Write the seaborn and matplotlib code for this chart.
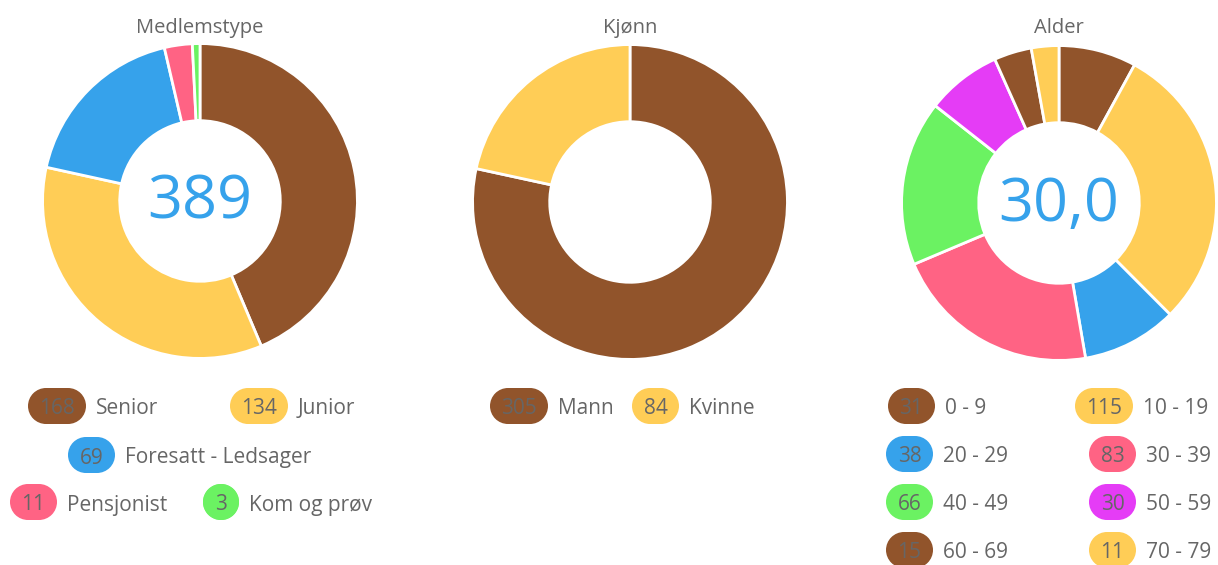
import matplotlib.pyplot as plt
import seaborn as sns
from matplotlib.patches import Circle, Rectangle

# data
medlem_labels = ['Senior', 'Junior', 'Foresatt - Ledsager', 'Pensjonist', 'Kom og prøv']
medlem_values = [168, 134, 69, 11, 3]
kjonn_labels = ['Mann', 'Kvinne']
kjonn_values = [305, 84]
alder_labels = ['0 - 9', '10 - 19', '20 - 29', '30 - 39', '40 - 49', '50 - 59', '60 - 69', '70 - 79']
alder_values = [31, 115, 38, 83, 66, 30, 15, 11]
medlem_total = '389'
alder_snitt = '30,0'

sns.set_theme(style='white')
plt.rcParams['font.family'] = ['Open Sans', 'DejaVu Sans']

farger = sns.color_palette(['#91542B', '#FFCD56', '#36A2EB', '#FF6384', '#6BF262', '#E53CF6',
                            '#91542B', '#FFCD56'])
GRA = '#666666'
W, H = 1218, 565

fig = plt.figure(figsize=(W / 100, H / 100), dpi=100)


def donut(cx, cy, verdier, tittel, senter=None):
    r = 159
    ax = fig.add_axes([(cx - r) / W, 1 - (cy + r) / H, 2 * r / W, 2 * r / H])
    ax.pie(verdier, colors=farger[:len(verdier)], startangle=90, counterclock=False,
           radius=1, wedgeprops=dict(width=0.49, edgecolor='white', linewidth=2))
    ax.set_xlim(-1.01, 1.01)
    ax.set_ylim(-1.01, 1.01)
    if senter:
        ax.text(0, -0.01, senter, ha='center', va='center', fontsize=44, color='#36A2EB')
    fig.text(cx / W, 1 - 28 / H, tittel, ha='center', va='center', fontsize=14.5, color=GRA)


donut(200, 201, medlem_values, 'Medlemstype', medlem_total)
donut(630, 202, kjonn_values, 'Kjønn')
donut(1059, 203, alder_values, 'Alder', alder_snitt)

# legend overlay in pixel coords
lax = fig.add_axes([0, 0, 1, 1])
lax.set_xlim(0, W)
lax.set_ylim(H, 0)
lax.axis('off')


def pill(x, y, verdi, tekst, farge):
    n = len(str(verdi))
    w = max(36, 25 + 11 * n)
    h = 36
    r = h / 2
    lax.add_patch(Circle((x + r, y), r, facecolor=farge, edgecolor='none'))
    lax.add_patch(Circle((x + w - r, y), r, facecolor=farge, edgecolor='none'))
    lax.add_patch(Rectangle((x + r, y - r), w - h, h, facecolor=farge, edgecolor='none'))
    lax.text(x + w / 2, y + 3, str(verdi), ha='center', va='center', fontsize=15, color=GRA)
    lax.text(x + w + 10, y + 3, tekst, ha='left', va='center', fontsize=15, color=GRA)


medlem_pos = [(28, 406), (230, 406), (68, 455), (10, 502), (203, 502)]
for i, (x, y) in enumerate(medlem_pos):
    pill(x, y, medlem_values[i], medlem_labels[i], farger[i])

kjonn_pos = [(490, 406), (632, 406)]
for i, (x, y) in enumerate(kjonn_pos):
    pill(x, y, kjonn_values[i], kjonn_labels[i], farger[i])

alder_pos = [(888, 406), (1075, 406), (886, 454), (1089, 454),
             (886, 502), (1089, 502), (886, 550), (1089, 550)]
for i, (x, y) in enumerate(alder_pos):
    pill(x, y, alder_values[i], alder_labels[i], farger[i])

fig.savefig('out.png', dpi=100, facecolor='white')
